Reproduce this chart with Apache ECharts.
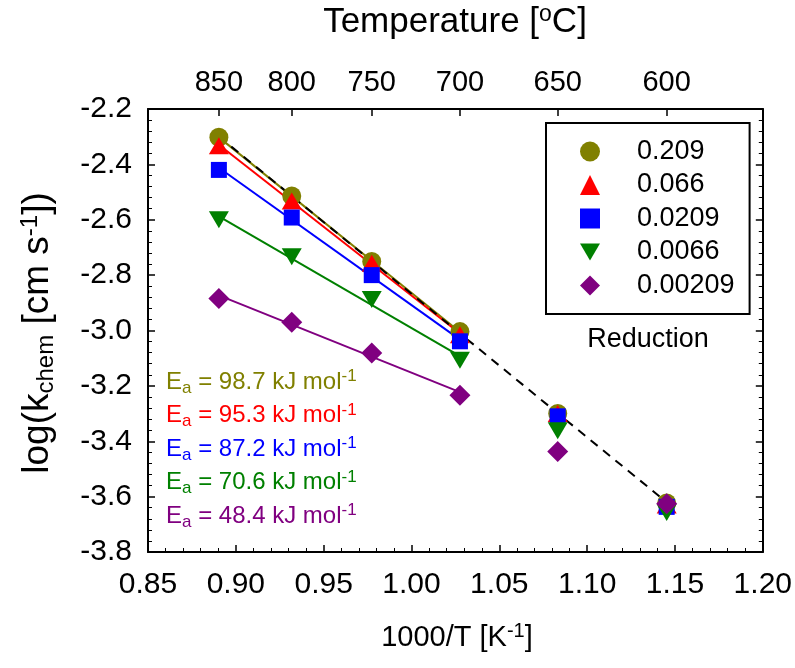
<!DOCTYPE html>
<html>
<head>
<meta charset="utf-8">
<script src="https://cdn.jsdelivr.net/npm/echarts@6.0.0/dist/echarts.min.js"></script>
<style>
html,body{margin:0;padding:0;background:#fff;}
#chart{width:795px;height:668px;}
</style>
</head>
<body>
<div id="chart"></div>
<script>
// ---- data ----
const tempTicks = [850, 800, 750, 700, 650, 600];          // temperatures [°C] of measurements / top ticks
const invT = tempTicks.map(t => 1000 / (t + 273.15));     // 1000/T [K^-1]
const pO2Names = ['0.209', '0.066', '0.0209', '0.0066', '0.00209'];
const k_0209   = [-2.302, -2.514, -2.751, -3.004, -3.300, -3.623];
const k_066    = [-2.333, -2.532, -2.757, -3.015, -3.300, -3.630];
const k_02090  = [-2.420, -2.592, -2.800, -3.039, -3.310, -3.637];
const k_0066   = [-2.600, -2.734, -2.888, -3.107, -3.362, -3.657];
const k_00209  = [-2.884, -2.970, -3.081, -3.234, -3.437, -3.626];
const eaValues = ['98.7', '95.3', '87.2', '70.6', '48.4'];

// ---- styles ----
const FONT = "'Liberation Sans', Arial, sans-serif";
const colors = ['#808000', '#ff0000', '#0000ff', '#008000', '#800080'];
const symbols = ['circle', 'triangle', 'rect', 'triangle', 'diamond'];
const legendIcons = ['circle', 'triangle', 'rect', 'path://M0,0L10,0L5,8.5Z', 'diamond'];
const symSizes = [19, [20, 17], 16, [20, 17], 21];
const symRot = [0, 0, 0, 180, 0];
const allK = [k_0209, k_066, k_02090, k_0066, k_00209];

function linFit(xs, ys) {
  const n = xs.length;
  const mx = xs.reduce((a, b) => a + b, 0) / n;
  const my = ys.reduce((a, b) => a + b, 0) / n;
  let sxy = 0, sxx = 0;
  for (let i = 0; i < n; i++) { sxy += (xs[i] - mx) * (ys[i] - my); sxx += (xs[i] - mx) ** 2; }
  const b = sxy / sxx;
  return x => my + b * (x - mx);
}

const series = [];
// fit lines over 850-700 °C
allK.forEach((ks, i) => {
  const xs = invT.slice(0, 4), ys = ks.slice(0, 4);
  const f = linFit(xs, ys);
  series.push({
    type: 'line', name: pO2Names[i] + ' fit', silent: true, symbol: 'none', z: 2,
    data: [[xs[0], f(xs[0])], [xs[3], f(xs[3])]],
    lineStyle: { color: colors[i], width: 2 }
  });
});
// dashed overall fit (0.209)
{
  const f = linFit(invT, k_0209);
  series.push({
    type: 'line', name: 'overall', silent: true, symbol: 'none', z: 3,
    data: [[invT[0], f(invT[0])], [invT[5], f(invT[5])]],
    lineStyle: { color: '#000', width: 2, type: [9, 7] }
  });
}
// markers
allK.forEach((ks, i) => {
  series.push({
    type: 'scatter', name: pO2Names[i], z: 4 + i,
    symbol: symbols[i], symbolSize: symSizes[i], symbolRotate: symRot[i],
    itemStyle: { color: colors[i], opacity: 1 },
    data: invT.map((x, j) => [x, ks[j]])
  });
});

const axisCommon = {
  axisLine: { show: true, onZero: false, lineStyle: { color: '#000', width: 2 } },
  splitLine: { show: false }
};
const majorTick = { show: true, inside: true, length: 7, lineStyle: { color: '#000', width: 1.5 } };
const minorTick = { show: true, splitNumber: 5, length: 4, lineStyle: { color: '#000', width: 1 } };

const eaTexts = eaValues.map((v, i) => ({
  type: 'text', left: 166, top: 368 + i * 33.5, z: 100,
  style: {
    text: '{m|E}{s|a}{m| = ' + v + ' kJ mol}{p|-1}',
    fill: colors[i],
    rich: {
      m: { fontSize: 24, fontFamily: FONT, fill: colors[i], lineHeight: 28 },
      s: { fontSize: 17, fontFamily: FONT, fill: colors[i], padding: [12, 0, 0, 0] },
      p: { fontSize: 17, fontFamily: FONT, fill: colors[i], padding: [0, 0, 11, 0] }
    }
  }
}));

const option = {
  animation: false,
  backgroundColor: '#fff',
  textStyle: { fontFamily: FONT },
  grid: { left: 148, right: 31, top: 109, bottom: 116 },
  xAxis: [
    Object.assign({
      type: 'value', position: 'bottom', min: 0.85, max: 1.20, interval: 0.05,
      axisTick: majorTick, minorTick: minorTick,
      axisLabel: { fontSize: 30, color: '#000', margin: 18, fontFamily: FONT,
        formatter: v => v.toFixed(2) }
    }, axisCommon),
    Object.assign({
      type: 'value', position: 'top', min: 0.85, max: 1.20,
      axisTick: Object.assign({}, majorTick, { customValues: invT }),
      minorTick: { show: false },
      axisLabel: { fontSize: 29, color: '#000', margin: 12, fontFamily: FONT,
        customValues: invT,
        formatter: v => String(Math.round(1000 / v - 273.15)) }
    }, axisCommon)
  ],
  yAxis: [
    Object.assign({
      type: 'value', position: 'left', min: -3.8, max: -2.2, interval: 0.2,
      axisTick: majorTick, minorTick: minorTick,
      axisLabel: { fontSize: 30, color: '#000', margin: 16, fontFamily: FONT,
        formatter: v => v.toFixed(1) }
    }, axisCommon),
    Object.assign({
      type: 'value', position: 'right', min: -3.8, max: -2.2, interval: 0.2,
      axisTick: majorTick, minorTick: minorTick,
      axisLabel: { show: false }
    }, axisCommon)
  ],
  legend: {
    left: 546, top: 123, orient: 'vertical',
    borderColor: '#000', borderWidth: 2,
    padding: [15, 15, 15, 34],
    itemWidth: 20, itemHeight: 20, itemGap: 6.5,
    selectedMode: false,
    textStyle: { fontSize: 27, color: '#000', fontFamily: FONT, padding: [0, 0, 0, 32] },
    data: pO2Names.map((n, i) => ({
      name: n, icon: legendIcons[i],
      itemStyle: { color: colors[i] }
    }))
  },
  graphic: [
    { type: 'text', x: 455, y: 22, z: 100,
      style: { text: '{m|Temperature [}{p|o}{m|C]}', align: 'center', verticalAlign: 'middle',
        rich: { m: { fontSize: 35, fontFamily: FONT, fill: '#000' },
                p: { fontSize: 23, fontFamily: FONT, fill: '#000', padding: [0, 0, 15, 0] } } } },
    { type: 'text', x: 457, y: 638, z: 100,
      style: { text: '{m|1000/T [K}{p|-1}{m|]}', align: 'center', verticalAlign: 'middle',
        rich: { m: { fontSize: 29, fontFamily: FONT, fill: '#000' },
                p: { fontSize: 20, fontFamily: FONT, fill: '#000', padding: [0, 0, 13, 0] } } } },
    { type: 'text', x: 38, y: 333, rotation: Math.PI / 2, z: 100,
      style: { text: '{m|log(k}{s|chem}{m| [cm s}{p|-1}{m|])}', align: 'center', verticalAlign: 'middle',
        rich: { m: { fontSize: 37, fontFamily: FONT, fill: '#000' },
                s: { fontSize: 24, fontFamily: FONT, fill: '#000', padding: [16, 0, 0, 0] },
                p: { fontSize: 24, fontFamily: FONT, fill: '#000', padding: [0, 0, 16, 0] } } } },
    { type: 'text', x: 648, y: 340, z: 100,
      style: { text: 'Reduction', align: 'center', verticalAlign: 'middle',
        fontSize: 27, fontFamily: FONT, fill: '#000' } }
  ].concat(eaTexts),
  series: series
};

const chart = echarts.init(document.getElementById('chart'), null, { renderer: 'canvas' });
chart.setOption(option);
</script>
</body>
</html>
